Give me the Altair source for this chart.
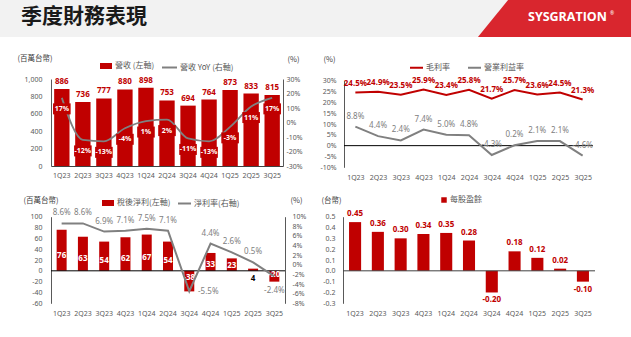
import altair as alt
import pandas as pd

# ---------------- data ----------------
quarters = ["1Q23", "2Q23", "3Q23", "4Q23", "1Q24", "2Q24", "3Q24", "4Q24", "1Q25", "2Q25", "3Q25"]
revenue = [886, 736, 777, 880, 898, 753, 694, 764, 873, 833, 815]
revenue_yoy = [17, -12, -13, -4, 1, 2, -11, -13, -3, 11, 17]
gross_margin = [24.5, 24.9, 23.5, 25.9, 23.4, 25.8, 21.7, 25.7, 23.6, 24.5, 21.3]
operating_margin = [8.8, 4.4, 2.4, 7.4, 5.0, 4.8, -4.3, 0.2, 2.1, 2.1, -4.6]
net_income = [76, 63, 54, 62, 67, 54, -38, 33, 23, 4, -20]
net_margin = [8.6, 8.6, 6.9, 7.1, 7.5, 7.1, -5.5, 4.4, 2.6, 0.5, -2.4]
eps = [0.45, 0.36, 0.30, 0.34, 0.35, 0.28, -0.20, 0.18, 0.12, 0.02, -0.10]

page_title = "季度財務表現"
brand = "SYSGRATION"
legend_rev = ["營收 (左軸)", "營收 YoY (右軸)"]
legend_margin = ["毛利率", "營業利益率"]
legend_ni = ["稅後淨利(左軸)", "淨利率(右軸)"]
legend_eps = ["每股盈餘"]
unit_labels = ["(百萬台幣)", "(%)", "(台幣)"]

# ---------------- styles ----------------
RED = "#C00000"
GRAY = "#808080"
TXT = "#595959"
FONT = "Noto Sans"
CJK = "Noto Sans CJK TC"
W, H = 631, 337
AX_FS = 7
LBL_FS = 8
MINUS = "\u2212"


def hy(expr):
    # use a plain hyphen for negative numbers, as in the original
    return f"replace({expr}, '{MINUS}', '-')"


df = pd.DataFrame({
    "q": quarters, "rev": revenue, "yoy": revenue_yoy, "gm": gross_margin,
    "om": operating_margin, "ni": net_income, "nm": net_margin, "eps": eps,
})
pm = pd.DataFrame({
    "q": quarters * 2,
    "v": gross_margin + operating_margin,
    "s": [legend_margin[0]] * len(quarters) + [legend_margin[1]] * len(quarters),
})
zero = pd.DataFrame({"z": [0]})
hdr = pd.DataFrame({"t": [page_title], "b": [brand]})


def xenc(rng, pi, po, ypos, pad=5, domain=False):
    return alt.X(
        "q:N", sort=quarters, title=None,
        scale=alt.Scale(range=rng, paddingInner=pi, paddingOuter=po),
        axis=alt.Axis(orient="bottom", offset=ypos - H, labelAngle=0, labelPadding=pad,
                      ticks=False, tickSize=0, grid=False, domain=domain,
                      domainColor="#404040", domainWidth=1, labelColor=TXT,
                      labelFont=FONT, labelFontSize=AX_FS, labelFlush=False, labelOverlap=False),
    )


def yaxis(orient, xpos, values, title=None, tx=0, ty=0, pad=8, fmt=None, expr=None):
    offset = -xpos if orient == "left" else xpos - W
    kw = dict(orient=orient, offset=offset, values=values, ticks=False, tickSize=0, grid=False,
              labelPadding=pad, labelColor=TXT, labelFont=FONT, labelFontSize=AX_FS,
              labelFlush=False, labelOverlap=False, domainColor="#595959", domainWidth=1)
    if fmt:
        kw["format"] = fmt
    kw["labelExpr"] = expr if expr else hy("datum.label")
    if title:
        kw.update(title=title, titleAngle=0, titleX=tx, titleY=ty, titleAlign="left",
                  titleBaseline="middle", titleFont=CJK, titleFontSize=7.5,
                  titleFontWeight="normal", titleColor="#404040")
    else:
        kw["title"] = None
    return alt.Axis(**kw)


def leg(x, y, sym, size, **kw):
    return alt.Legend(orient="none", legendX=x, legendY=y, title=None, direction="horizontal",
                      symbolType=sym, symbolSize=size, labelFont=CJK, labelFontSize=8,
                      labelColor=TXT, labelOffset=2, padding=0, **kw)


RECT_SYM = "M -1 -0.5 H 1 V 0.5 H -1 Z"
PCT = "datum.value + '%'"

# ---------------- header ----------------
band = alt.Chart(hdr).mark_rect(color="#F2F2F2").encode(
    x=alt.value(0), x2=alt.value(W), y=alt.value(0), y2=alt.value(37))
tag = alt.Chart(hdr).mark_point(
    shape="M -4.14 1 L -2.51 -1 L 4.4 -1 L 4.4 1 Z", filled=True, size=1369,
    color="#D9262E", opacity=1, strokeWidth=0).encode(x=alt.value(554.5), y=alt.value(18.5))
title_t = alt.Chart(hdr).mark_text(align="left", baseline="middle", font=CJK, fontSize=21,
                                   fontWeight="bold", color="#1A1A1A").encode(
    x=alt.value(21), y=alt.value(17), text="t:N")
brand_t = alt.Chart(hdr).mark_text(align="left", baseline="middle", font="Open Sans",
                                   fontSize=12.5, fontWeight="bold", color="white").encode(
    x=alt.value(528), y=alt.value(17), text="b:N")
reg_t = alt.Chart(hdr).mark_text(align="left", baseline="middle", font=FONT, fontSize=5,
                                 color="white").encode(
    x=alt.value(610), y=alt.value(13), text=alt.value("®"))

# ---------------- panel 1: revenue ----------------
x1 = xenc([51, 283], 0.27, 0.15, 166, pad=5, domain=True)
sc_rev = alt.Scale(domain=[0, 1000], range=[166, 79], nice=False, zero=False)
sc_yoy = alt.Scale(domain=[-30, 30], range=[166, 79], nice=False, zero=False)
ax_rev = yaxis("left", 51, list(range(0, 1001, 200)), unit_labels[0], -34, 58, pad=9, fmt=",.0f")
ax_yoy = yaxis("right", 283, list(range(-30, 31, 10)), unit_labels[1], 4, 59, pad=3, expr=PCT)
y_rev = alt.Y("rev:Q", scale=sc_rev, axis=ax_rev)
y_yoy = alt.Y("yoy:Q", scale=sc_yoy, axis=ax_yoy)

bars1 = alt.Chart(df).transform_calculate(s=f"'{legend_rev[0]}'").mark_bar().encode(
    x=x1, y=y_rev,
    color=alt.Color("s:N", scale=alt.Scale(domain=[legend_rev[0]], range=[RED]),
                    legend=leg(99, 59, RECT_SYM, 144)))
lbl1 = alt.Chart(df).mark_text(baseline="bottom", dy=-3, color=RED, font=FONT, fontSize=LBL_FS,
                               fontWeight="bold").encode(x=x1, y=y_rev, text="rev:Q")
line1 = alt.Chart(df).transform_calculate(s=f"'{legend_rev[1]}'").mark_line(
    strokeWidth=1.8, interpolate="monotone").encode(
    x=x1, y=y_yoy,
    color=alt.Color("s:N", scale=alt.Scale(domain=[legend_rev[1]], range=[GRAY]),
                    legend=leg(161, 59, "stroke", 225, symbolStrokeWidth=2)))
box1 = alt.Chart(df).mark_point(
    shape="M -1.6 1 L 1.6 1 L 1.6 3 L -1.6 3 Z", filled=True, size=121, color=RED,
    opacity=1, strokeWidth=0).encode(x=x1, y=y_yoy)
boxt1 = alt.Chart(df).transform_calculate(t="datum.yoy + '%'").mark_text(
    dy=11, baseline="middle", color="white", font=FONT, fontSize=7, fontWeight="bold").encode(
    x=x1, y=y_yoy, text="t:N")

p1 = alt.layer(alt.layer(bars1, lbl1), alt.layer(line1, box1, boxt1)).resolve_scale(
    y="independent", color="independent")

# ---------------- panel 2: margins ----------------
x2 = xenc([344, 594], 0, 0, 167.3, pad=6)
sc_m = alt.Scale(domain=[-10, 30], range=[167.3, 80.7], nice=False, zero=False)
ax_m = yaxis("left", 344, list(range(-10, 31, 5)), unit_labels[1], -21, 59, expr=PCT)
y2 = alt.Y("v:Q", scale=sc_m, axis=ax_m)
rule2 = alt.Chart(zero).mark_rule(color="black", strokeWidth=1).encode(
    y=alt.Y("z:Q", scale=sc_m, axis=ax_m), x=alt.value(344), x2=alt.value(593))
lines2 = alt.Chart(pm).mark_line(strokeWidth=2).encode(
    x=x2, y=y2,
    color=alt.Color("s:N", scale=alt.Scale(domain=legend_margin, range=[RED, GRAY]),
                    legend=leg(409, 60, "stroke", 169, symbolStrokeWidth=2, columnPadding=14)))
m_fmt = hy("format(datum.v, '.1f')") + " + '%'"
gmt = alt.Chart(pm).transform_filter(f"datum.s == '{legend_margin[0]}'").transform_calculate(
    t=m_fmt).mark_text(
    dy=-9, color=RED, font=FONT, fontSize=LBL_FS, fontWeight="bold").encode(x=x2, y=y2, text="t:N")
omt = alt.Chart(pm).transform_filter(f"datum.s == '{legend_margin[1]}'").transform_calculate(
    t=m_fmt).mark_text(
    dy=-10, color=GRAY, font=FONT, fontSize=LBL_FS).encode(x=x2, y=y2, text="t:N")

p2 = alt.layer(rule2, lines2, gmt, omt)

# ---------------- panel 3: net income ----------------
x3 = xenc([51, 285], 0.53, 0.265, 303.3, pad=6)
sc_ni = alt.Scale(domain=[-60, 100], range=[303.3, 216.7], nice=False, zero=False)
sc_nm = alt.Scale(domain=[-8, 10], range=[303.3, 216.7], nice=False, zero=False)
ax_ni = yaxis("left", 51, list(range(-60, 101, 20)), unit_labels[0], -28, 200, pad=9)
ax_nm = yaxis("right", 285, list(range(-8, 11, 2)), unit_labels[1], 5, 200, pad=7, expr=PCT)
y_ni = alt.Y("ni:Q", scale=sc_ni, axis=ax_ni)
y_nm = alt.Y("nm:Q", scale=sc_nm, axis=ax_nm)
bars3 = alt.Chart(df).transform_calculate(s=f"'{legend_ni[0]}'").mark_bar().encode(
    x=x3, y=y_ni,
    color=alt.Color("s:N", scale=alt.Scale(domain=[legend_ni[0]], range=[RED]),
                    legend=leg(101, 196, RECT_SYM, 144)))
rule3 = alt.Chart(zero).mark_rule(color="black", strokeWidth=1).encode(
    y=alt.Y("z:Q", scale=sc_ni, axis=ax_ni), x=alt.value(51), x2=alt.value(285))
wl3 = alt.Chart(df).transform_filter("!(datum.ni > 0 && datum.ni < 10)").transform_calculate(
    ly="datum.ni * 0.35", t="'' + datum.ni").mark_text(
    color="white", font=FONT, fontSize=LBL_FS, fontWeight="bold", baseline="middle").encode(
    x=x3, y=alt.Y("ly:Q", scale=sc_ni, axis=ax_ni), text="t:N")
bl3 = alt.Chart(df).transform_filter("datum.ni > 0 && datum.ni < 10").transform_calculate(
    ly="0", t="'' + datum.ni").mark_text(
    dy=8, color="black", font=FONT, fontSize=LBL_FS, fontWeight="bold", baseline="middle").encode(
    x=x3, y=alt.Y("ly:Q", scale=sc_ni, axis=ax_ni), text="t:N")
line3 = alt.Chart(df).transform_calculate(s=f"'{legend_ni[1]}'").mark_line(strokeWidth=2).encode(
    x=x3, y=y_nm,
    color=alt.Color("s:N", scale=alt.Scale(domain=[legend_ni[1]], range=[GRAY]),
                    legend=leg(177, 196, "stroke", 169, symbolStrokeWidth=2)))
nm_fmt = hy("format(datum.nm, '.1f')") + " + '%'"
t3a = alt.Chart(df).transform_filter("datum.nm >= 0").transform_calculate(t=nm_fmt).mark_text(
    dy=-10, color=GRAY, font=FONT, fontSize=LBL_FS).encode(x=x3, y=y_nm, text="t:N")
t3b = alt.Chart(df).transform_filter("datum.nm < -5").transform_calculate(t=nm_fmt).mark_text(
    dx=19, dy=1, color=GRAY, font=FONT, fontSize=LBL_FS).encode(x=x3, y=y_nm, text="t:N")
t3c = alt.Chart(df).transform_filter("datum.nm < 0 && datum.nm >= -5").transform_calculate(
    t=nm_fmt).mark_text(dy=15, color=GRAY, font=FONT, fontSize=LBL_FS).encode(
    x=x3, y=y_nm, text="t:N")

p3 = alt.layer(alt.layer(bars3, rule3, wl3, bl3), alt.layer(line3, t3a, t3b, t3c)).resolve_scale(
    y="independent", color="independent")

# ---------------- panel 4: EPS ----------------
x4 = xenc([343, 595], 0.47, 0.265, 303.3, pad=6)
sc_eps = alt.Scale(domain=[-0.3, 0.5], range=[303.3, 216.7], nice=False, zero=False)
ax_eps = yaxis("left", 343, [-0.3, -0.2, -0.1, 0.0, 0.1, 0.2, 0.3, 0.4, 0.5],
               unit_labels[2], -22, 200, pad=8, fmt=".1f")
y4 = alt.Y("eps:Q", scale=sc_eps, axis=ax_eps)
bars4 = alt.Chart(df).transform_calculate(s=f"'{legend_eps[0]}'").mark_bar().encode(
    x=x4, y=y4,
    color=alt.Color("s:N", scale=alt.Scale(domain=legend_eps, range=[RED]),
                    legend=leg(440, 196, "square", 30)))
rule4 = alt.Chart(zero).mark_rule(color="#404040", strokeWidth=1).encode(
    y=alt.Y("z:Q", scale=sc_eps, axis=ax_eps), x=alt.value(343), x2=alt.value(595))
eps_fmt = hy("format(datum.eps, '.2f')")
t4p = alt.Chart(df).transform_filter("datum.eps >= 0").transform_calculate(t=eps_fmt).mark_text(
    dy=-8, color=RED, font=FONT, fontSize=LBL_FS, fontWeight="bold").encode(
    x=x4, y=y4, text="t:N")
t4n = alt.Chart(df).transform_filter("datum.eps < 0").transform_calculate(t=eps_fmt).mark_text(
    dy=8, color=RED, font=FONT, fontSize=LBL_FS, fontWeight="bold").encode(
    x=x4, y=y4, text="t:N")

p4 = alt.layer(bars4, rule4, t4p, t4n)

chart = alt.layer(band, tag, title_t, brand_t, reg_t, p1, p2, p3, p4).resolve_scale(
    x="independent", y="independent", color="independent"
).properties(
    width=W, height=H, autosize=alt.AutoSizeParams(type="none"), padding=0, background="white"
).configure_view(stroke=None)

chart.save("out.html", embed_options={"renderer": "svg", "actions": False})
